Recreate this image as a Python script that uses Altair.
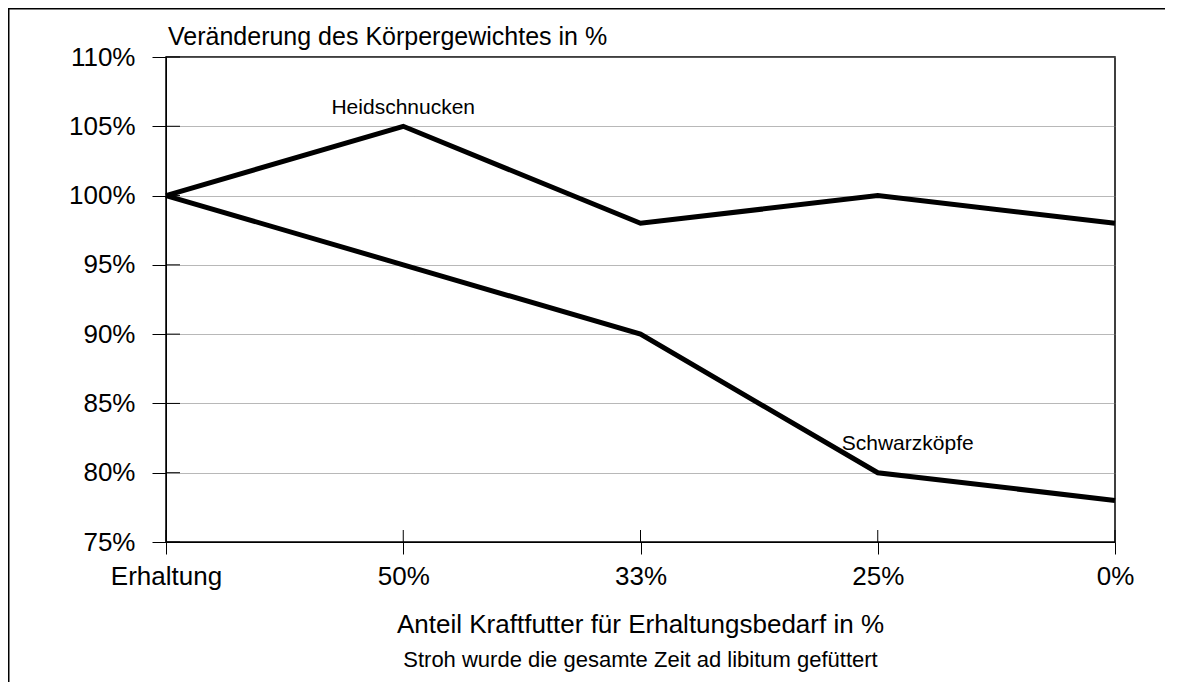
import altair as alt
import pandas as pd

categories = ["Erhaltung", "50%", "33%", "25%", "0%"]
heidschnucken = [1.00, 1.05, 0.98, 1.00, 0.98]
schwarzkoepfe = [1.00, 0.95, 0.90, 0.80, 0.78]
y_ticks = [0.75, 0.80, 0.85, 0.90, 0.95, 1.00, 1.05, 1.10]
series_names = ["Heidschnucken", "Schwarzköpfe"]
title_text = "Veränderung des Körpergewichtes in %"
x_title_text = "Anteil Kraftfutter für Erhaltungsbedarf in %"
subtitle_text = "Stroh wurde die gesamte Zeit ad libitum gefüttert"

W, H = 949, 485
FONT = "Liberation Sans"

df = pd.DataFrame({
    "Kategorie": categories * 2,
    "Wert": heidschnucken + schwarzkoepfe,
    "Rasse": [series_names[0]] * 5 + [series_names[1]] * 5,
})
cat_df = pd.DataFrame({"Kategorie": categories})
ytick_df = pd.DataFrame({"Wert": y_ticks})

x_scale = alt.Scale(type="point", domain=categories, padding=0)
y_scale = alt.Scale(domain=[0.75, 1.10], nice=False, zero=False)

lines = alt.Chart(df).mark_line(color="black", strokeWidth=5).encode(
    x=alt.X("Kategorie:N", scale=x_scale, sort=categories,
            axis=alt.Axis(title=None, labelAngle=0, labelFontSize=26, labelFont=FONT,
                          labelColor="black", tickSize=12, tickColor="black",
                          domainColor="black", labelPadding=9, grid=False)),
    y=alt.Y("Wert:Q", scale=y_scale,
            axis=alt.Axis(title=None, values=y_ticks, format=".0%", labelFontSize=26,
                          labelFont=FONT, labelColor="black", tickSize=14,
                          tickColor="black", domainColor="black", labelPadding=17,
                          gridColor="#707070", gridDash=[1, 1], gridWidth=1)),
    detail="Rasse:N",
)

x_ticks_up = alt.Chart(cat_df).mark_rule(color="black", strokeWidth=1).encode(
    x=alt.X("Kategorie:N", scale=x_scale, sort=categories),
    y=alt.value(H - 12), y2=alt.value(H),
)
y_ticks_in = alt.Chart(ytick_df).mark_rule(color="black", strokeWidth=1).encode(
    y=alt.Y("Wert:Q", scale=y_scale),
    x=alt.value(0), x2=alt.value(14),
)

lbl_h = alt.Chart(pd.DataFrame({"Kategorie": ["50%"], "Wert": [heidschnucken[1]],
                                "t": [series_names[0]]})).mark_text(
    font=FONT, fontSize=21, align="center", baseline="alphabetic", dy=-12, color="black"
).encode(x=alt.X("Kategorie:N", scale=x_scale, sort=categories),
         y=alt.Y("Wert:Q", scale=y_scale), text="t:N")

lbl_s = alt.Chart(pd.DataFrame({"Kategorie": ["25%"], "Wert": [schwarzkoepfe[3]],
                                "t": [series_names[1]]})).mark_text(
    font=FONT, fontSize=21, align="left", baseline="alphabetic", dx=-36, dy=-23, color="black"
).encode(x=alt.X("Kategorie:N", scale=x_scale, sort=categories),
         y=alt.Y("Wert:Q", scale=y_scale), text="t:N")

title = alt.Chart(pd.DataFrame({"t": [title_text]})).mark_text(
    font=FONT, fontSize=25, align="left", baseline="alphabetic", color="black"
).encode(x=alt.value(2), y=alt.value(-12), text="t:N")

x_title = alt.Chart(pd.DataFrame({"t": [x_title_text]})).mark_text(
    font=FONT, fontSize=26, align="center", baseline="alphabetic", color="black"
).encode(x=alt.value(W / 2), y=alt.value(576), text="t:N")

subtitle = alt.Chart(pd.DataFrame({"t": [subtitle_text]})).mark_text(
    font=FONT, fontSize=22, align="center", baseline="alphabetic", color="black"
).encode(x=alt.value(W / 2), y=alt.value(610), text="t:N")

border = alt.Chart(pd.DataFrame({"a": [0]})).mark_rect(
    filled=False, stroke="black", strokeWidth=2
).encode(x=alt.value(-157.5), x2=alt.value(1100), y=alt.value(-48.5), y2=alt.value(700))

chart = alt.layer(
    lines, x_ticks_up, y_ticks_in, lbl_h, lbl_s, title, x_title, subtitle, border
).properties(
    width=W, height=H,
    autosize=alt.AutoSizeParams(type="none"),
    padding={"left": 158, "top": 49, "right": 50, "bottom": 140},
    background="white",
).configure_view(stroke="black", strokeWidth=1.5)

chart.save("out.html", embed_options={"renderer": "svg", "actions": False})
